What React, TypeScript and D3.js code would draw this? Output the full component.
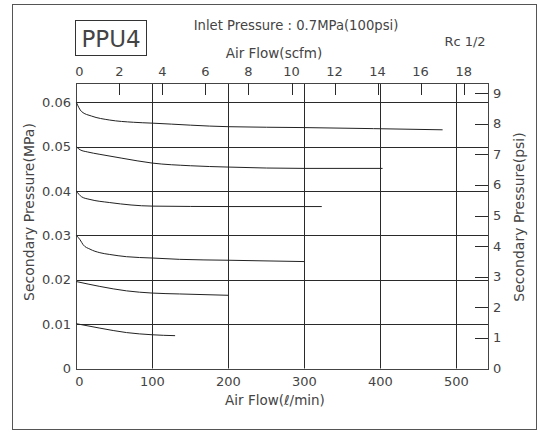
import React from "react";
import * as d3 from "d3";

const flowTicks = [0, 100, 200, 300, 400, 500];
const mpaTicks = [0, 0.01, 0.02, 0.03, 0.04, 0.05, 0.06];
const mpaLabels = ["0", "0.01", "0.02", "0.03", "0.04", "0.05", "0.06"];
const psiTicks = [0, 1, 2, 3, 4, 5, 6, 7, 8, 9];
const scfmTicks = [0, 2, 4, 6, 8, 10, 12, 14, 16, 18];

const flow1 = [0, 7, 20, 44, 75, 100, 200, 300, 482];
const press1 = [0.06, 0.0579, 0.0569, 0.056, 0.0555, 0.0553, 0.0545, 0.0543, 0.0538];
const flow2 = [0, 5, 15, 30, 60, 100, 150, 200, 300, 403];
const press2 = [0.05, 0.0493, 0.0488, 0.0483, 0.0474, 0.0463, 0.0457, 0.0454, 0.0451, 0.0451];
const flow3 = [0, 7, 18, 44, 100, 200, 323];
const press3 = [0.04, 0.0387, 0.0381, 0.0374, 0.0366, 0.0365, 0.0365];
const flow4 = [0, 5, 9, 18, 31, 44, 66, 100, 136, 200, 300];
const press4 = [0.03, 0.029, 0.0279, 0.0269, 0.0261, 0.0257, 0.0252, 0.0249, 0.0246, 0.0244, 0.0241];
const flow5 = [0, 31, 66, 100, 136, 200];
const press5 = [0.0196, 0.0185, 0.0175, 0.017, 0.0168, 0.0165];
const flow6 = [0, 31, 66, 100, 130];
const press6 = [0.0101, 0.0091, 0.0081, 0.0076, 0.0074];

const series = [
  [flow1, press1],
  [flow2, press2],
  [flow3, press3],
  [flow4, press4],
  [flow5, press5],
  [flow6, press6],
];

const MPA_PER_PSI = 0.00689476;
const LPM_PER_SCFM = 28.3168;

export default function App() {
  const left = 76.3, right = 488, top = 83, bottom = 368.5;
  const x = d3.scaleLinear().domain([0, 500]).range([left, 456.3]);
  const y = d3.scaleLinear().domain([0, 0.06]).range([bottom, 102.3]);
  const xScfm = (v: number) => x(v * LPM_PER_SCFM);
  const yPsi = (v: number) => y(v * MPA_PER_PSI);
  const line = d3
    .line<[number, number]>()
    .x((d) => x(d[0]))
    .y((d) => y(d[1]))
    .curve(d3.curveMonotoneX);
  const font = "'DejaVu Sans', Verdana, sans-serif";
  const txt = "#444";
  const grid = "#2a2a2a";
  const fs = 13;
  return (
    <svg
      width={542}
      height={432}
      style={{ position: "absolute", left: 0, top: 0, background: "#fff" }}
      fontFamily={font}
    >
      <rect x={12.5} y={4.5} width={524} height={425} fill="#fff" stroke="#555" strokeWidth={1} />
      {/* title box */}
      <rect x={75.5} y={20.5} width={71} height={35} fill="none" stroke="#333" strokeWidth={1} />
      <text x={111} y={47} fontSize={23} textAnchor="middle" fill={txt}>PPU4</text>
      <text x={296} y={30} fontSize={13.2} textAnchor="middle" fill={txt}>Inlet Pressure : 0.7MPa(100psi)</text>
      <text x={465} y={46} fontSize={fs} textAnchor="middle" fill={txt}>Rc 1/2</text>
      <text x={274} y={58} fontSize={13.5} textAnchor="middle" fill={txt}>Air Flow(scfm)</text>
      {/* horizontal grid */}
      {mpaTicks.map((t) => (
        <line key={"h" + t} x1={left} x2={right} y1={Math.round(y(t)) + 0.5} y2={Math.round(y(t)) + 0.5} stroke={grid} strokeWidth={1} />
      ))}
      {/* vertical grid */}
      {flowTicks.map((t) => (
        <line key={"v" + t} x1={Math.round(x(t)) + 0.5} x2={Math.round(x(t)) + 0.5} y1={top} y2={bottom} stroke={grid} strokeWidth={1} />
      ))}
      {/* plot frame */}
      <rect x={Math.round(left) + 0.5} y={top + 0.5} width={Math.round(right - left)} height={Math.round(bottom - top)} fill="none" stroke="#444" strokeWidth={1} />
      {/* scfm ticks */}
      {scfmTicks.map((t) => (
        <g key={"s" + t}>
          {t > 0 && (
            <line x1={Math.round(xScfm(t)) + 0.5} x2={Math.round(xScfm(t)) + 0.5} y1={top} y2={top + 12} stroke={grid} strokeWidth={1} />
          )}
          <text x={xScfm(t) + (t === 0 ? 3 : 0)} y={76} fontSize={fs} textAnchor="middle" fill={txt}>{t}</text>
        </g>
      ))}
      {/* psi ticks */}
      {psiTicks.map((t) => (
        <g key={"p" + t}>
          {t > 0 && (
            <line x1={right - 13} x2={right} y1={Math.round(yPsi(t)) + 0.5} y2={Math.round(yPsi(t)) + 0.5} stroke={grid} strokeWidth={1} />
          )}
          <text x={493} y={yPsi(t) + 4.5} fontSize={fs} textAnchor="start" fill={txt}>{t}</text>
        </g>
      ))}
      {/* MPa labels */}
      {mpaTicks.map((t, i) => (
        <text key={"m" + t} x={71} y={y(t) + 4.5} fontSize={fs} textAnchor="end" fill={txt}>{mpaLabels[i]}</text>
      ))}
      {/* flow labels */}
      {flowTicks.map((t) => (
        <text key={"f" + t} x={x(t) + (t === 0 ? 3 : 0)} y={386} fontSize={fs} textAnchor="middle" fill={txt}>{t}</text>
      ))}
      <text x={275} y={405} fontSize={13.5} textAnchor="middle" fill={txt}>Air Flow(ℓ/min)</text>
      <text transform={`translate(34,212) rotate(-90)`} fontSize={14} textAnchor="middle" fill={txt}>Secondary Pressure(MPa)</text>
      <text transform={`translate(524,217) rotate(-90)`} fontSize={14} textAnchor="middle" fill={txt}>Secondary Pressure(psi)</text>
      {/* curves */}
      {series.map(([f, p], i) => (
        <path
          key={"c" + i}
          d={line(f.map((v, j) => [v, p[j]] as [number, number])) || ""}
          fill="none"
          stroke="#222"
          strokeWidth={1}
        />
      ))}
    </svg>
  );
}
